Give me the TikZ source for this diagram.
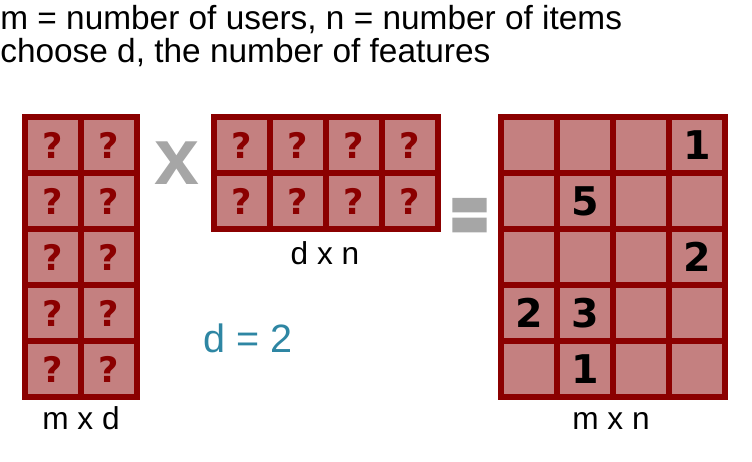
\documentclass[tikz,border=0pt]{standalone}
\usepackage{fontspec}
\setmainfont{Liberation Sans}
\newfontfamily\cellfont{DejaVu Sans}
\newfontface\opface{DejaVu Sans Bold}[FakeBold=5]
\usetikzlibrary{positioning}
\definecolor{gridred}{RGB}{139, 0, 0}
\definecolor{cellpink}{RGB}{196, 128, 128}
\definecolor{opgray}{RGB}{166, 166, 166}
\definecolor{dteal}{RGB}{46, 134, 163}
\tikzset{
  cell/.style={draw=gridred, fill=cellpink, line width=3.4pt, minimum size=1.12cm, inner sep=0pt},
  unknown/.style={cell, text=gridred, font=\cellfont\bfseries\fontsize{20}{20}\selectfont},
  rating/.style={inner sep=0pt, text=black, font=\cellfont\bfseries\fontsize{22.5}{22.5}\selectfont},
  dimlabel/.style={font=\fontsize{18}{18}\selectfont, inner sep=0pt, anchor=base},
}

\begin{document}
\begin{tikzpicture}
  \useasboundingbox (0, 0) rectangle (15.04, 9.24);

  % Header
  \node[anchor=base west, inner sep=0pt, font=\fontsize{19}{19}\selectfont] (hdrone) at (0, 8.64) {m = number of users, n = number of items};
  \node[anchor=base west, inner sep=0pt, font=\fontsize{19}{19}\selectfont] (hdrtwo) at (0, 7.99) {choose d, the number of features};

  % User factors (m x d)
  \foreach \r in {0,...,4}
    \foreach \c in {0,1}
      \node[unknown] (U-\r-\c) at (1.06 + 1.12*\c, 6.34 - 1.12*\r) {?};
  \node[dimlabel] (mdlbl) at (1.62, 0.64) {m x d};

  % Item factors (d x n)
  \foreach \r in {0,1}
    \foreach \c in {0,...,3}
      \node[unknown] (V-\r-\c) at (4.84 + 1.12*\c, 6.34 - 1.12*\r) {?};
  \node[dimlabel] (dnlbl) at (6.5, 3.94) {d x n};

  % Ratings (m x n)
  \foreach \r in {0,...,4}
    \foreach \c in {0,...,3}
      \node[cell] (R-\r-\c) at (10.58 + 1.12*\c, 6.34 - 1.12*\r) {};
  \foreach \r/\c/\v in {0/3/1, 1/1/5, 2/3/2, 3/0/2, 3/1/3, 4/1/1}
    \node[rating] (val-\r-\c) at (R-\r-\c.center) {\v};
  \node[dimlabel] (mnlbl) at (12.22, 0.64) {m x n};

  % Operators
  \node[anchor=base, inner sep=0pt, text=opgray, font=\bfseries\fontsize{46}{46}\selectfont] (times) at (3.54, 5.54) {x};
  \node[inner sep=0pt, text=opgray, font=\opface\fontsize{29}{29}\selectfont] (equals) at (9.39, 4.81) {\scalebox{1}[1.75]{=}};
  \node[anchor=base, inner sep=0pt, text=dteal, font=\fontsize{22.5}{22.5}\selectfont] (dval) at (4.96, 2.18) {d = 2};
\end{tikzpicture}
\end{document}
